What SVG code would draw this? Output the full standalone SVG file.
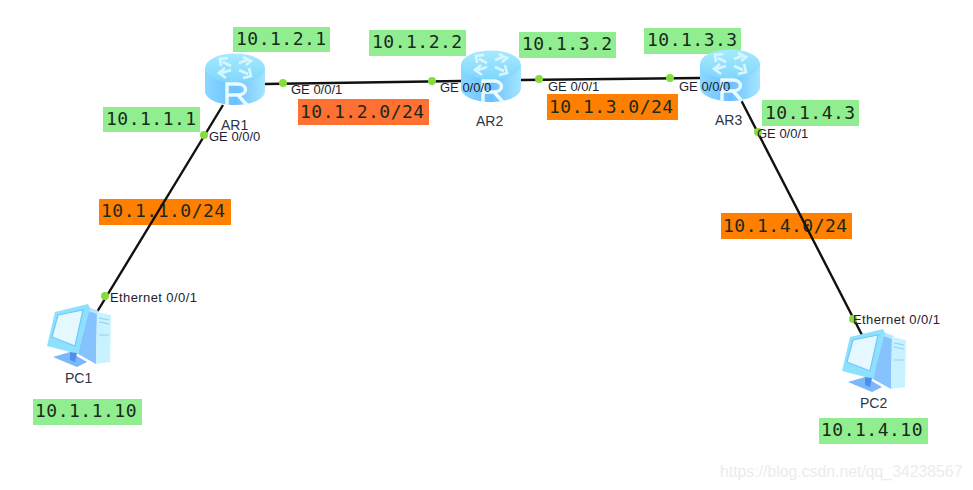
<svg xmlns="http://www.w3.org/2000/svg" width="973" height="490" viewBox="0 0 973 490">
<style>
.lk{stroke:#111;stroke-width:2.4;fill:none}
.dot{fill:#86dc3c}
.port{font:13px "Liberation Sans",Arial,sans-serif;fill:#1c2230}
.eth{letter-spacing:.4px}
.name{font:14px "Liberation Sans",Arial,sans-serif;fill:#2b3448}
.ip{font:18px "DejaVu Sans Mono",monospace;fill:#1a2a1a;letter-spacing:.5px}
.g{fill:#90ee90}
.o{fill:#ff7f00}
.o2{fill:#ff7033}
.wm{font:15.8px "Liberation Sans",Arial,sans-serif;fill:#ececec}
</style>
<defs>
<linearGradient id="side" x1="0" x2="1" y1="0" y2="0"><stop offset="0" stop-color="#8ad8ff"/><stop offset=".5" stop-color="#6cc0ff"/><stop offset="1" stop-color="#a4e6ff"/></linearGradient>
<linearGradient id="top" x1="0" x2="0" y1="0" y2="1"><stop offset="0" stop-color="#a6eaff"/><stop offset="1" stop-color="#80d6fb"/></linearGradient>
<g id="router">
<path d="M0 15V38C0 46 13 52 30 52S60 46 60 38V15Z" fill="url(#side)"/>
<ellipse cx="30" cy="15" rx="30" ry="14.5" fill="url(#top)"/>
<path d="M26 13L18 9M16 13L15 6L23 5M34 10L42 7M38 4L46 8L41 12M26 17L17 20M20 15L14 20L21 25M34 17L43 21M44 15L46 23L38 25" stroke="#d8f6ff" stroke-width="2.6" fill="none"/>
<path d="M22 52V31H33C43 31 43 42 33 42H22M33 42L42 52" fill="none" stroke="#e8fbff" stroke-width="3.4"/>
</g>
<g id="pc">
<path d="M31 50L41 6L50 8L49 60Z" fill="#86c2fd"/>
<path d="M41 3L52 7L50 10L41 7Z" fill="#b8e6ff"/>
<path d="M50 8L64 11L63 58L49 60Z" fill="#c8f2ff"/>
<path d="M52 14L62 16M52 18L62 20M52 31L62 31" stroke="#8fd0f0" stroke-width="1.2" fill="none"/>
<path d="M0 42L8 8L41 0L43 4L31 50Z" fill="#8ee0ff"/>
<path d="M5 33L11 11L36 6L28 42Z" fill="#e6f8ff" stroke="#6fc8f6" stroke-width="1.2"/>
<path d="M6 53L23 48L40 58L30 63Z" fill="#7cb6fb"/>
<path d="M23 48L30 49L28 58L23 56Z" fill="#4d90ec"/>
</g>
</defs>
<rect width="973" height="490" fill="#fff"/>
<g id="ips">
<rect class="g" x="233" y="27" width="97" height="25"/><text class="ip" x="236" y="45">10.1.2.1</text>
<rect class="g" x="369" y="30" width="97" height="26"/><text class="ip" x="372" y="48">10.1.2.2</text>
<rect class="g" x="519" y="32" width="97" height="26"/><text class="ip" x="522" y="50">10.1.3.2</text>
<rect class="g" x="644" y="28" width="97" height="26"/><text class="ip" x="647" y="46">10.1.3.3</text>
<rect class="g" x="762" y="100" width="97" height="26"/><text class="ip" x="765" y="119">10.1.4.3</text>
<rect class="g" x="103" y="107" width="97" height="25"/><text class="ip" x="106" y="125">10.1.1.1</text>
<rect class="g" x="33" y="399" width="109" height="26"/><text class="ip" x="35" y="417">10.1.1.10</text>
<rect class="g" x="819" y="418" width="109" height="26"/><text class="ip" x="821" y="436">10.1.4.10</text>
<rect class="o2" x="298" y="99" width="131" height="26"/><text class="ip" x="300" y="118">10.1.2.0/24</text>
<rect class="o" x="547" y="94" width="131" height="26"/><text class="ip" x="549" y="113">10.1.3.0/24</text>
<rect class="o" x="99" y="199" width="132" height="26"/><text class="ip" x="101" y="217">10.1.1.0/24</text>
<rect class="o" x="721" y="213" width="131" height="26"/><text class="ip" x="723" y="232">10.1.4.0/24</text>
</g>
<g id="connectors">
<path class="lk" d="M265 84L461 81"/>
<path class="lk" d="M521 80L700 78"/>
<path class="lk" d="M223 105L97 312"/>
<path class="lk" d="M741 100L862 335"/>
</g>
<g id="AR1"><use href="#router" x="205" y="53"/><text class="name" x="221" y="130">AR1</text></g>
<g id="AR2"><use href="#router" x="461" y="50"/><text class="name" x="476" y="126">AR2</text></g>
<g id="AR3"><use href="#router" x="700" y="49"/><text class="name" x="715" y="125">AR3</text></g>
<g id="PC1"><use href="#pc" x="47" y="304"/><text class="name" x="65" y="383">PC1</text></g>
<g id="PC2"><use href="#pc" x="842" y="329"/><text class="name" x="860" y="408">PC2</text></g>
<g id="ports">
<circle class="dot" cx="283" cy="83" r="4"/><circle class="dot" cx="432" cy="81" r="4"/>
<circle class="dot" cx="539" cy="79" r="4"/><circle class="dot" cx="670" cy="78" r="4"/>
<circle class="dot" cx="204" cy="135" r="4"/><circle class="dot" cx="105" cy="296" r="4"/>
<circle class="dot" cx="758" cy="132" r="4"/><circle class="dot" cx="853" cy="319" r="4"/>
<text class="port" x="291" y="94">GE 0/0/1</text>
<text class="port" x="440" y="92">GE 0/0/0</text>
<text class="port" x="548" y="91">GE 0/0/1</text>
<text class="port" x="679" y="91">GE 0/0/0</text>
<text class="port" x="209" y="141">GE 0/0/0</text>
<text class="port" x="757" y="138">GE 0/0/1</text>
<text class="port eth" x="110" y="302">Ethernet 0/0/1</text>
<text class="port eth" x="853" y="324">Ethernet 0/0/1</text>
</g>
<text class="wm" x="720" y="477">https://blog.csdn.net/qq_34238567</text>
</svg>
